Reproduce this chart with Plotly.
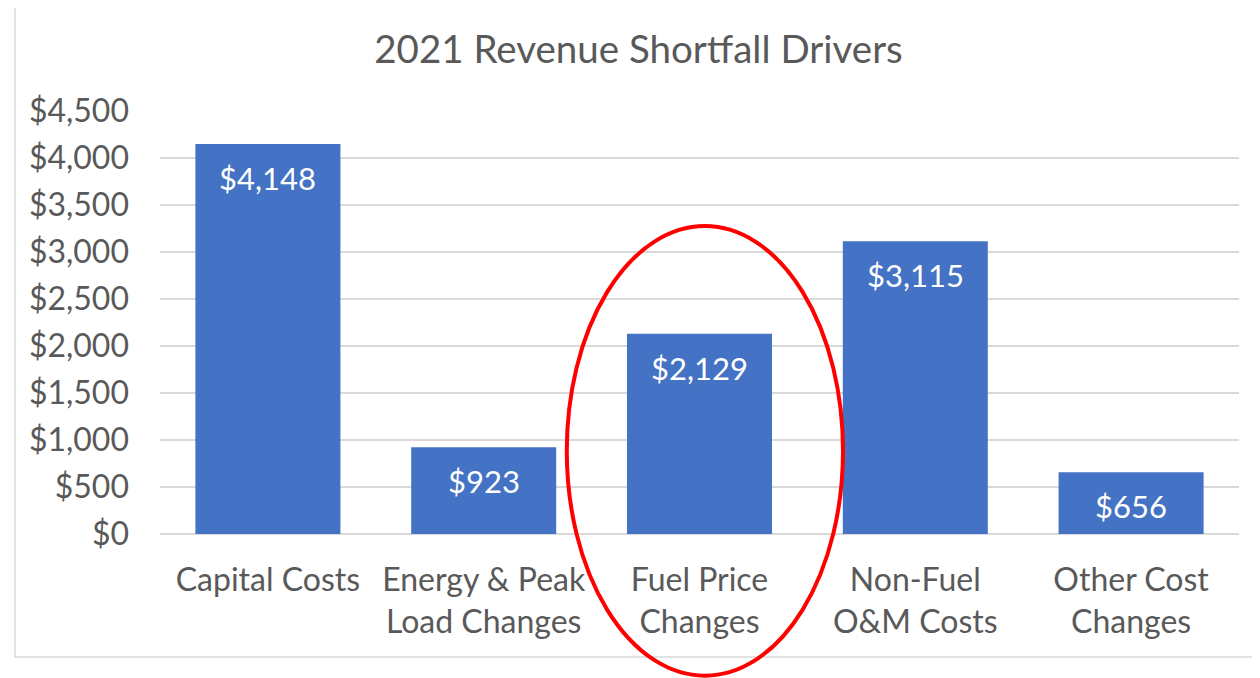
import plotly.graph_objects as go

categories = ["Capital Costs", "Energy & Peak<br>Load Changes", "Fuel Price<br>Changes",
              "Non-Fuel<br>O&M Costs", "Other Cost<br>Changes"]
values = [4148, 923, 2129, 3115, 656]
y_ticks = [0, 500, 1000, 1500, 2000, 2500, 3000, 3500, 4000, 4500]
y_tick_labels = [f"${v:,}" for v in y_ticks]

FONT = "Lato"
GRAY = "#595959"
BLUE = "#4472C4"

fig = go.Figure()
fig.add_trace(go.Bar(
    x=categories, y=values, marker=dict(color=BLUE, line=dict(width=0)),
    hoverinfo="skip",
))

for c, v in zip(categories, values):
    fig.add_annotation(x=c, y=v, yref="y", xref="x", text=f"${v:,}",
                       showarrow=False, yshift=-34, yanchor="middle",
                       font=dict(family=FONT, size=31, color="white"))

# outer chart border
fig.add_shape(type="rect", xref="paper", yref="paper",
              x0=-0.1344, x1=1.03, y0=-0.2908, y1=1.2459,
              line=dict(color="#D9D9D9", width=1.5), fillcolor="rgba(0,0,0,0)", layer="below")
# red highlight ellipse
fig.add_shape(type="circle", xref="paper", yref="paper",
              x0=0.377, x1=0.633, y0=-0.335, y1=0.728,
              line=dict(color="#FF0000", width=4), fillcolor="rgba(0,0,0,0)")

fig.update_layout(
    width=1260, height=678,
    margin=dict(l=152, r=29, t=103, b=152, autoexpand=False),
    paper_bgcolor="white", plot_bgcolor="white",
    showlegend=False, bargap=0.328,
    title=dict(text="2021 Revenue Shortfall Drivers", x=0.5004, xanchor="center",
               y=1 - 42 / 678, yanchor="middle",
               font=dict(family=FONT, size=38.5, color=GRAY)),
    font=dict(family=FONT, color=GRAY),
)
fig.update_xaxes(showgrid=False, showline=False, ticks="", automargin=False,
                 tickfont=dict(family=FONT, size=32, color=GRAY),
                 ticklabelstandoff=24)
fig.update_yaxes(range=[0, 4500], tickvals=y_ticks, ticktext=y_tick_labels,
                 showgrid=True, gridcolor="#D9D9D9", gridwidth=1.5,
                 zeroline=True, zerolinecolor="#D9D9D9", zerolinewidth=1.5,
                 showline=False, ticks="", automargin=False,
                 tickfont=dict(family=FONT, size=32, color=GRAY),
                 ticklabelstandoff=30)

fig.write_html("out.html")
